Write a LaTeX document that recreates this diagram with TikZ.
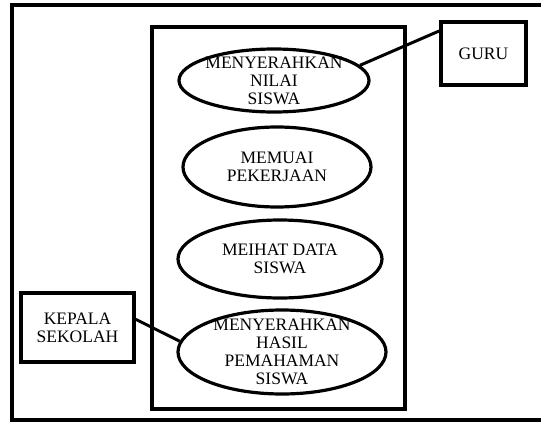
\documentclass[tikz,border=0pt]{standalone}
\usepackage{fontspec}
\setmainfont{Liberation Serif}
\usetikzlibrary{shapes.geometric}

\begin{document}
\begin{tikzpicture}[
        x=1pt, y=-1pt,
        every node/.style={
            align=center,
            font=\fontsize{17.5}{18}\selectfont
        },
        aktor/.style={
            draw,
            line width=3.5pt,
            rectangle
        },
        usecase/.style={
            draw,
            line width=3.2pt,
            ellipse,
            inner sep=-9pt
        },
        garis/.style={
            line width=3pt
        }
    ]

        \useasboundingbox (0,0) rectangle (541,423);
        \clip (0,0) rectangle (541,423);

        \node[aktor, minimum width=560pt, minimum height=415pt] (bingkai) at (292,212.5) {};

        \node[aktor, minimum width=253pt, minimum height=382pt] (sistem) at (278.5,218) {};

        \node[usecase, minimum width=190pt, minimum height=63pt] (nilai) at (274,80.5)
        {MENYERAHKAN\\NILAI\\SISWA};

        \node[usecase, minimum width=188pt, minimum height=80pt] (kerja) at (277,167)
        {MEMUAI\\PEKERJAAN};

        \node[usecase, minimum width=204pt, minimum height=78pt] (data) at (280,259)
        {MEIHAT DATA\\SISWA};

        \node[usecase, minimum width=208pt, minimum height=84pt] (hasil) at (282,352)
        {MENYERAHKAN\\HASIL\\PEMAHAMAN\\SISWA};

        \node[aktor, minimum width=85pt, minimum height=63pt] (guru) at (483.5,53.5)
        {GURU};

        \node[aktor, minimum width=113pt, minimum height=69pt] (kepala) at (77.5,327.5)
        {KEPALA\\SEKOLAH};

        \draw[garis] (guru.153) -- (nilai.10);
        \draw[garis] (kepala.8) -- (hasil.174);

    \end{tikzpicture}
\end{document}
